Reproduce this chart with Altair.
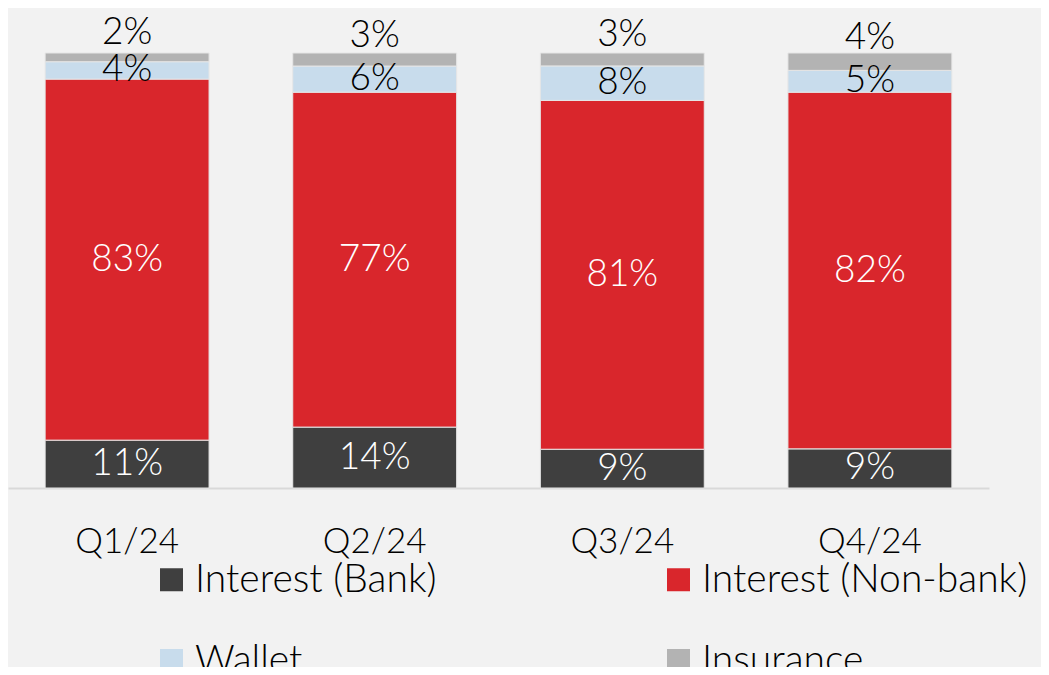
import altair as alt
import pandas as pd

quarters = ["Q1/24", "Q2/24", "Q3/24", "Q4/24"]
categories = ["Interest (Bank)", "Interest (Non-bank)", "Wallet", "Insurance"]
bank = [11, 14, 9, 9]
nonbank = [83, 77, 81, 82]
wallet = [4, 6, 8, 5]
insurance = [2, 3, 3, 4]
colors = ["#3f3f3f", "#d9262c", "#c8dcec", "#b3b3b3"]
text_colors = ["white", "white", "black", "black"]

rows = []
for qi, q in enumerate(quarters):
    for ci, (cat, vals) in enumerate(zip(categories, [bank, nonbank, wallet, insurance])):
        rows.append({"quarter": q, "category": cat, "value": vals[qi], "order": ci,
                     "tcolor": text_colors[ci]})
df = pd.DataFrame(rows)

FONT = "Lato"
FW = 300

base = (
    alt.Chart(df)
    .transform_joinaggregate(total="sum(value)", groupby=["quarter"])
    .transform_calculate(pct="datum.value / datum.total", label="datum.value + '%'")
    .transform_stack(stack="pct", groupby=["quarter"], sort=[alt.SortField("order")], as_=["y0", "y1"])
    .transform_calculate(ymid="(datum.y0 + datum.y1) / 2")
)

x = alt.X("quarter:N", sort=quarters, title=None,
          scale=alt.Scale(paddingInner=0.338, paddingOuter=0.15),
          axis=alt.Axis(labelAngle=0, labelFontSize=35, labelFont=FONT, labelFontWeight=FW,
                        labelColor="black", ticks=False, labelPadding=36,
                        domainColor="#d9d9d9", domainWidth=2))

yscale = alt.Scale(domain=[0, 1])

bars = base.mark_bar(stroke="#e6e6e6", strokeWidth=1).encode(
    x=x,
    y=alt.Y("y0:Q", scale=yscale, axis=None),
    y2="y1:Q",
    color=alt.Color("category:N", sort=categories,
                    scale=alt.Scale(domain=categories, range=colors),
                    legend=alt.Legend(title=None, orient="none", legendX=144, legendY=507,
                                      columns=2, direction="horizontal",
                                      columnPadding=222, rowPadding=41,
                                      symbolType="square", symbolSize=529, symbolStrokeWidth=0,
                                      labelFontSize=39, labelFont=FONT, labelFontWeight=FW,
                                      labelColor="black", labelOffset=4, labelLimit=600)),
)

inner = base.transform_filter("datum.order < 3").mark_text(
    fontSize=37, font=FONT, fontWeight=FW).encode(
    x=alt.X("quarter:N", sort=quarters),
    y=alt.Y("ymid:Q", scale=yscale),
    text="label:N",
    color=alt.Color("tcolor:N", scale=None),
)

top = base.transform_filter("datum.order == 3").mark_text(
    fontSize=37, font=FONT, fontWeight=FW, dy=-24).encode(
    x=alt.X("quarter:N", sort=quarters),
    y=alt.Y("ymid:Q", scale=yscale),
    text="label:N",
    color=alt.value("black"),
)

chart = (
    alt.layer(bars, inner, top)
    .properties(width=981, height=435, background="#f2f2f2",
                padding={"left": 0, "top": 45, "right": 52, "bottom": 179},
                autosize=alt.AutoSizeParams(type="none"))
    .configure_view(stroke=None)
)

chart.save("out.html", embed_options={"renderer": "svg", "actions": False})
